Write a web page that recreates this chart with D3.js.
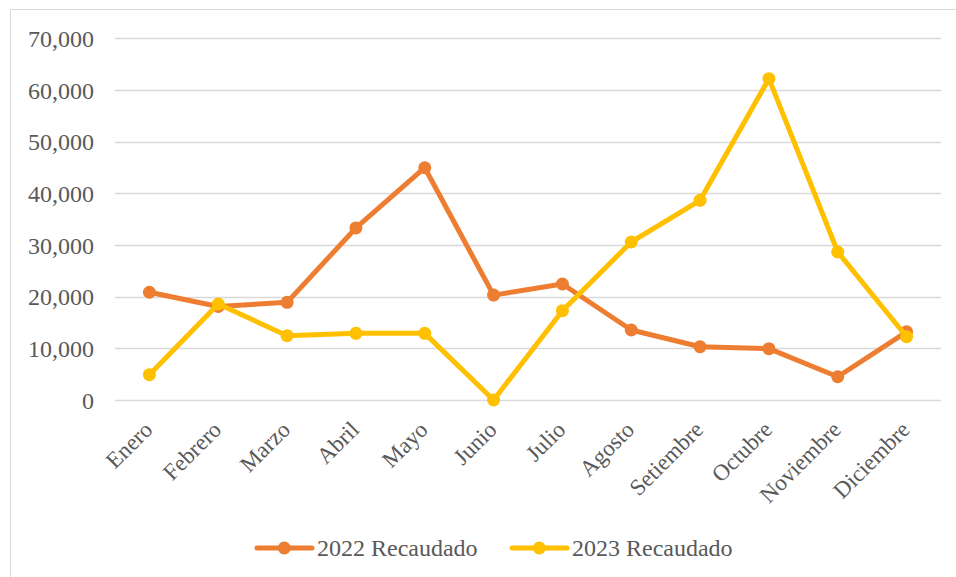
<!DOCTYPE html>
<html>
<head>
<meta charset="utf-8">
<script src="https://cdn.jsdelivr.net/npm/d3@7"></script>
</head>
<body style="margin:0">
<svg id="chart" width="956" height="577" style="display:block;background:#ffffff"></svg>
<script>
// Monthly collection figures
const months = ["Enero", "Febrero", "Marzo", "Abril", "Mayo", "Junio",
                "Julio", "Agosto", "Setiembre", "Octubre", "Noviembre", "Diciembre"];
const recaudado2022 = [20850, 18100, 18900, 33300, 44950, 20300,
                       22450, 13550, 10300, 9930, 4500, 13200];
const recaudado2023 = [4900, 18580, 12450, 12900, 12900, 0,
                       17280, 30580, 38650, 62190, 28640, 12250];
const yTicks = [0, 10000, 20000, 30000, 40000, 50000, 60000, 70000];
const seriesNames = ["2022 Recaudado", "2023 Recaudado"];
const seriesColors = ["#ED7D31", "#FFC000"];

const FONT = '"Liberation Serif"';
const TEXT_COLOR = "#595959";

const svg = d3.select("#chart");

// Outer chart frame
svg.append("rect")
  .attr("x", 10.5).attr("y", 9.5)
  .attr("width", 960).attr("height", 580)
  .attr("fill", "none").attr("stroke", "#d9d9d9").attr("stroke-width", 1);

const plot = { left: 115, right: 941, top: 38.3, bottom: 400 };

const x = d3.scalePoint()
  .domain(months)
  .range([plot.left, plot.right])
  .padding(0.5);

const y = d3.scaleLinear()
  .domain([0, 70000])
  .range([plot.bottom, plot.top]);

// Horizontal gridlines
svg.append("g")
  .selectAll("line")
  .data(yTicks)
  .join("line")
  .attr("x1", plot.left).attr("x2", plot.right)
  .attr("y1", d => Math.round(y(d)) + 0.5).attr("y2", d => Math.round(y(d)) + 0.5)
  .attr("stroke", "#d9d9d9").attr("stroke-width", 1.3);

// Y axis labels
const fmt = d3.format(",");
const yAxis = d3.axisLeft(y).tickValues(yTicks).tickFormat(d => fmt(d)).tickSize(0).tickPadding(0);
const yg = svg.append("g").attr("transform", "translate(94,0)").call(yAxis);
yg.attr("font-family", null).attr("font-size", null);
yg.select(".domain").remove();
yg.selectAll("text")
  .attr("dy", "0.34em")
  .style("font-family", FONT)
  .style("font-size", "24px")
  .style("fill", TEXT_COLOR);

// X axis category labels, rotated
const xAxis = d3.axisBottom(x).tickSize(0).tickPadding(0);
const xg = svg.append("g").call(xAxis);
xg.attr("font-family", null).attr("font-size", null);
xg.select(".domain").remove();
xg.selectAll(".tick").attr("transform", d => `translate(${x(d) + 4.5},431)`);
xg.selectAll("text")
  .attr("y", 0).attr("dy", 0)
  .attr("text-anchor", "end")
  .attr("transform", "rotate(-45)")
  .style("font-family", FONT)
  .style("font-size", "23px")
  .style("fill", TEXT_COLOR);

// Series lines and markers
const seriesData = [recaudado2022, recaudado2023];
const line = d3.line().x((d, i) => x(months[i])).y(d => y(d));

seriesData.forEach((vals, k) => {
  const g = svg.append("g");
  g.append("path")
    .datum(vals)
    .attr("d", line)
    .attr("fill", "none")
    .attr("stroke", seriesColors[k])
    .attr("stroke-width", 5)
    .attr("stroke-linejoin", "round")
    .attr("stroke-linecap", "round");
  g.selectAll("circle")
    .data(vals)
    .join("circle")
    .attr("cx", (d, i) => x(months[i]))
    .attr("cy", d => y(d))
    .attr("r", 6.5)
    .attr("fill", seriesColors[k]);
});

// Legend
const legendItems = [
  { name: seriesNames[0], color: seriesColors[0], x0: 257, x1: 312, mx: 284.3, tx: 317 },
  { name: seriesNames[1], color: seriesColors[1], x0: 512, x1: 567, mx: 539.3, tx: 572 }
];
const lg = svg.append("g");
legendItems.forEach(it => {
  lg.append("line")
    .attr("x1", it.x0).attr("x2", it.x1)
    .attr("y1", 548).attr("y2", 548)
    .attr("stroke", it.color).attr("stroke-width", 5)
    .attr("stroke-linecap", "round");
  lg.append("circle")
    .attr("cx", it.mx).attr("cy", 548).attr("r", 6.5)
    .attr("fill", it.color);
  lg.append("text")
    .attr("x", it.tx).attr("y", 548).attr("dy", "0.34em")
    .style("font-family", FONT)
    .style("font-size", "24px")
    .style("fill", TEXT_COLOR)
    .text(it.name);
});
</script>
</body>
</html>
